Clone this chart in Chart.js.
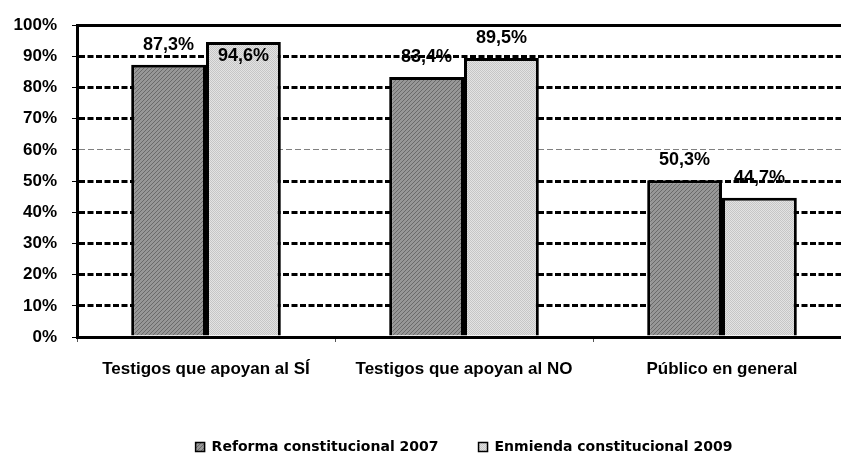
<!DOCTYPE html>
<html>
<head>
<meta charset="utf-8">
<script src="https://cdn.jsdelivr.net/npm/chart.js@4.4.0/dist/chart.umd.min.js"></script>
<style>
  html, body { margin: 0; padding: 0; background: #fff; overflow: hidden; }
  .wrap { width: 841px; height: 454px; overflow: hidden; }
  canvas { display: block; }
</style>
</head>
<body>
<div class="wrap"><canvas id="chart" width="852" height="464"></canvas></div>
<script>
// Chart data
const categories = ['Testigos que apoyan al SÍ', 'Testigos que apoyan al NO', 'Público en general'];
const seriesNames = ['Reforma constitucional 2007', 'Enmienda constitucional 2009'];
const reforma2007 = [87.3, 83.4, 50.3];
const enmienda2009 = [94.6, 89.5, 44.7];
const yMin = 0;
const yMax = 100;
const yStep = 10;

const canvas = document.getElementById('chart');
const ctx = canvas.getContext('2d');
const labelFont = '"Liberation Sans", Arial, sans-serif';

/**
 * Builds a small repeating fill like the ones in the old office chart
 */
function makePattern(base, mark, size, cells) {
  const tile = document.createElement('canvas');
  tile.width = size;
  tile.height = size;
  const g = tile.getContext('2d');
  g.fillStyle = base;
  g.fillRect(0, 0, size, size);
  g.fillStyle = mark;
  cells.forEach(([x, y]) => g.fillRect(x, y, 1, 1));
  return ctx.createPattern(tile, 'repeat');
}

const darkFill = makePattern('#979797', '#6a6a6a', 4, [[0, 3], [1, 2], [2, 1], [3, 0]]);
const lightFill = makePattern('#e3e3e3', '#c6c6c6', 2, [[0, 0], [1, 1]]);

// Value labels above the bars (inside when there is no room)
const barLabels = {
  id: 'barLabels',
  afterDatasetsDraw(chart) {
    const { chartArea } = chart;
    const c = chart.ctx;
    c.save();
    c.font = 'bold 18px ' + labelFont;
    c.fillStyle = '#000';
    c.textAlign = 'center';
    c.textBaseline = 'middle';
    chart.data.datasets.forEach((ds, i) => {
      chart.getDatasetMeta(i).data.forEach((bar, j) => {
        let y = bar.y - 20;
        if (y - 9 < chartArea.top) y = bar.y + 14;
        c.fillText(ds.data[j].toFixed(1).replace('.', ',') + '%', bar.x, y);
      });
    });
    c.restore();
  },
};

function tickValue(c) {
  return c.tick ? c.tick.value : null;
}

new Chart(ctx, {
  type: 'bar',
  data: {
    labels: categories,
    datasets: [
      {
        label: seriesNames[0],
        data: reforma2007,
        backgroundColor: darkFill,
        borderColor: '#000',
        borderWidth: 3,
        barPercentage: 1,
        categoryPercentage: 0.58,
      },
      {
        label: seriesNames[1],
        data: enmienda2009,
        backgroundColor: lightFill,
        borderColor: '#000',
        borderWidth: 3,
        barPercentage: 1,
        categoryPercentage: 0.58,
      },
    ],
  },
  options: {
    responsive: false,
    devicePixelRatio: 1,
    animation: false,
    events: [],
    layout: { padding: { top: 23, right: 1, left: 0, bottom: 0 } },
    scales: {
      x: {
        afterFit(scale) { scale.height = 63; },
        ticks: {
          color: '#000',
          padding: 17,
          autoSkip: false,
          maxRotation: 0,
          font: { family: labelFont, size: 17, weight: 'bold' },
        },
        grid: {
          drawOnChartArea: false,
          drawTicks: true,
          tickLength: 5,
          color: '#555',
          lineWidth: 1,
          offset: true,
        },
        border: { color: '#000', width: 3 },
      },
      y: {
        min: yMin,
        max: yMax,
        afterFit(scale) { scale.width = 77; },
        ticks: {
          stepSize: yStep,
          padding: 15,
          color: '#000',
          font: { family: labelFont, size: 17, weight: 'bold' },
          callback: (v) => v + '%',
        },
        grid: {
          color: (c) => (tickValue(c) === 60 ? '#808080' : '#000'),
          lineWidth: (c) => (tickValue(c) === 60 ? 1 : 3),
          tickLength: 5,
          tickWidth: 1,
          tickColor: '#000',
          tickBorderDash: [],
        },
        border: {
          color: '#000',
          width: 3,
          dash: (c) => {
            const v = tickValue(c);
            if (v === null || v === yMin || v === yMax) return [];
            return v === 60 ? [6, 3] : [6, 2.5];
          },
        },
      },
    },
    plugins: {
      tooltip: { enabled: false },
      legend: {
        position: 'bottom',
        fullSize: false,
        labels: {
          color: '#000',
          boxWidth: 9,
          boxHeight: 9,
          padding: 40,
          font: { family: '"DejaVu Sans"', size: 14, weight: 'bold' },
          generateLabels(chart) {
            const items = Chart.defaults.plugins.legend.labels.generateLabels(chart);
            items.forEach((item) => { item.lineWidth = 1.5; });
            return items;
          },
        },
      },
    },
  },
  plugins: [barLabels],
});
</script>
</body>
</html>
